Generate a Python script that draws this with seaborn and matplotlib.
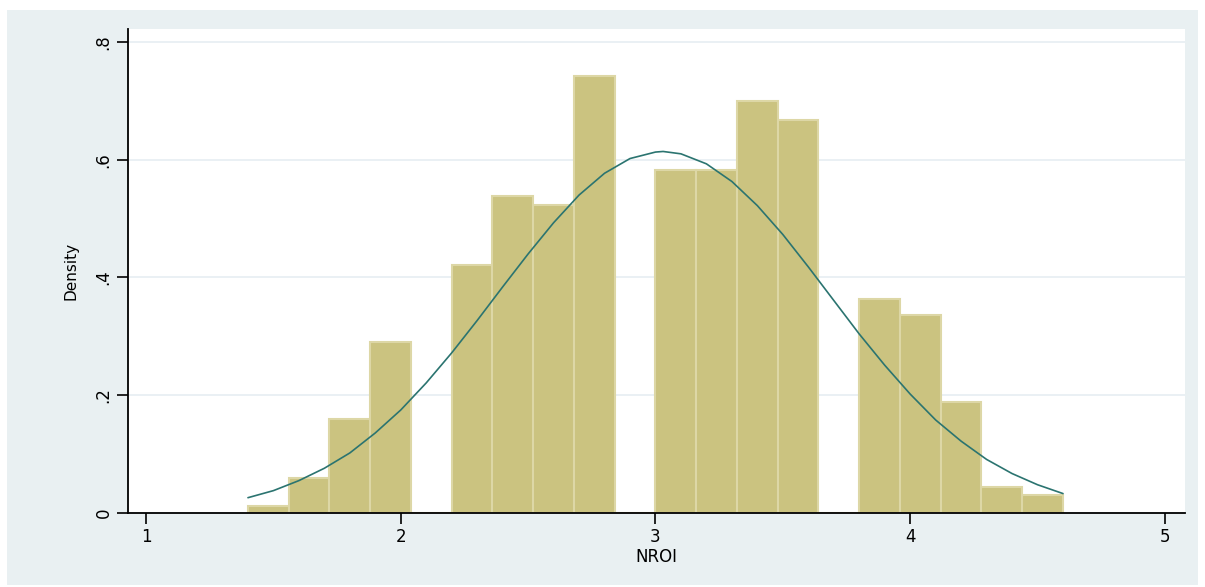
"""
Histogram of NROI with a normal density overlay (Stata-like look)
"""

import numpy as np
import matplotlib
matplotlib.use('Agg')
import matplotlib.pyplot as plt
from matplotlib.patches import Rectangle
import seaborn as sns

# bin edges and density heights
bin_edges = [1.40, 1.56, 1.72, 1.88, 2.04, 2.20, 2.36, 2.52, 2.68, 2.84, 3.00,
             3.16, 3.32, 3.48, 3.64, 3.80, 3.96, 4.12, 4.28, 4.44, 4.60]
bin_density = [0.012, 0.060, 0.160, 0.290, 0.0, 0.422, 0.538, 0.523, 0.742, 0.0,
               0.582, 0.582, 0.700, 0.667, 0.0, 0.363, 0.336, 0.188, 0.044, 0.030]

# normal curve
curve_x = [1.4, 1.5, 1.6, 1.7, 1.8, 1.9, 2.0, 2.1, 2.2, 2.3, 2.4, 2.5, 2.6,
           2.7, 2.8, 2.9, 3.0, 3.03, 3.1, 3.2, 3.3, 3.4, 3.5, 3.6, 3.7, 3.8,
           3.9, 4.0, 4.1, 4.2, 4.3, 4.4, 4.5, 4.6]
curve_y = [0.026, 0.038, 0.055, 0.076, 0.102, 0.136, 0.175, 0.221, 0.272,
           0.327, 0.384, 0.440, 0.493, 0.540, 0.577, 0.602, 0.613, 0.614,
           0.610, 0.593, 0.563, 0.522, 0.473, 0.418, 0.361, 0.304, 0.251,
           0.202, 0.158, 0.122, 0.091, 0.067, 0.048, 0.033]

x_ticks = [1, 2, 3, 4, 5]
y_ticks = [0, 0.2, 0.4, 0.6, 0.8]
y_tick_labels = ['0', '.2', '.4', '.6', '.8']

BAR_COLOR = '#cbc380'
BAR_EDGE = '#ddd7a6'
LINE_COLOR = '#2b7470'
BG_COLOR = '#e9f0f2'

sns.set_style('white')
plt.rcParams['font.family'] = ['DejaVu Sans']
plt.rcParams['text.color'] = 'black'
plt.rcParams['axes.labelcolor'] = 'black'
plt.rcParams['xtick.color'] = 'black'
plt.rcParams['ytick.color'] = 'black'

fig = plt.figure(figsize=(12.05, 5.87), dpi=100, facecolor='white')
# light outer panel like the Stata graph region
bg = Rectangle((7 / 1205, 2 / 587), 1191 / 1205, 575 / 587,
               transform=fig.transFigure, facecolor=BG_COLOR,
               edgecolor='none', zorder=-10)
fig.add_artist(bg)

ax = fig.add_axes([128 / 1205, 74 / 587, 1057 / 1205, 484 / 587])
ax.set_zorder(1)
ax.set_facecolor('white')

centers = [(a + b) / 2 for a, b in zip(bin_edges[:-1], bin_edges[1:])]
sns.histplot(x=centers, weights=bin_density, bins=bin_edges, stat='count',
             color=BAR_COLOR, alpha=1.0, edgecolor=BAR_EDGE, linewidth=1.5,
             ax=ax, zorder=2)
sns.lineplot(x=curve_x, y=curve_y, color=LINE_COLOR, linewidth=1.2, ax=ax,
             zorder=3)

ax.set_xlim(0.929, 5.079)
ax.set_ylim(0, 0.822)
ax.set_xticks(x_ticks)
ax.set_xticklabels([str(t) for t in x_ticks])
ax.set_yticks(y_ticks)
ax.set_yticklabels(y_tick_labels, rotation=90, va='center')

ax.grid(axis='y', color='#e6eef2', linewidth=1.2, zorder=0)
ax.set_axisbelow(True)
for side in ['top', 'right']:
    ax.spines[side].set_visible(False)
for side in ['left', 'bottom']:
    ax.spines[side].set_color('black')
    ax.spines[side].set_linewidth(1.3)

ax.tick_params(axis='both', direction='out', length=8, width=1.2,
               color='black', labelsize=12, pad=3, left=True, bottom=True)
ax.set_xlabel('NROI', fontsize=12, labelpad=1)
ax.set_ylabel('Density', fontsize=11, labelpad=12)

fig.savefig('out.png', dpi=100, facecolor='white')
plt.close(fig)
